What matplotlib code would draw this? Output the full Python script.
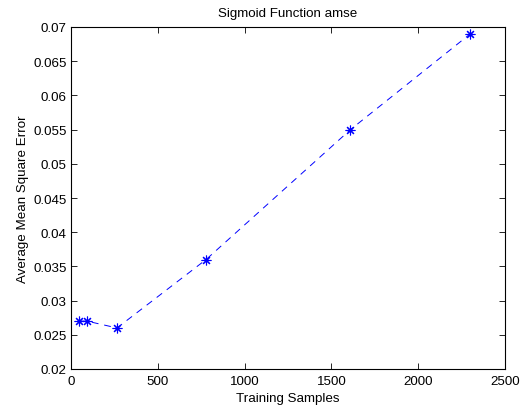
import matplotlib
matplotlib.use("Agg")
import matplotlib.pyplot as plt

# training set sizes and the resulting average mean square error
samples = [48, 92, 265, 778, 1610, 2300]
amse = [0.027, 0.027, 0.026, 0.036, 0.055, 0.069]

x_ticks = [0, 500, 1000, 1500, 2000, 2500]
y_ticks = [0.02, 0.025, 0.03, 0.035, 0.04, 0.045, 0.05, 0.055, 0.06, 0.065, 0.07]

plt.rcParams["font.family"] = ["Liberation Sans", "DejaVu Sans"]
fs = 9.6

fig = plt.figure(figsize=(5.23, 4.10), dpi=100)
ax = fig.add_axes([71 / 523, 1 - 370 / 410, 434 / 523, 342 / 410])

ax.plot(samples, amse, color="blue", linewidth=0.7, linestyle=(0, (7, 6)),
        marker=(8, 2, 0), markersize=7, markeredgewidth=0.8,
        markeredgecolor="blue")

ax.set_xlim(0, 2500)
ax.set_ylim(0.02, 0.07)
ax.set_xticks(x_ticks)
ax.set_xticklabels([str(t) for t in x_ticks])
ax.set_yticks(y_ticks)
ax.set_yticklabels([f"{t:g}" for t in y_ticks])

# matlab-style axes: inward ticks on every side
ax.tick_params(direction="in", length=4, width=0.6, top=True, right=True,
               labelsize=fs, pad=3)
ax.tick_params(axis="x", pad=4)
for s in ax.spines.values():
    s.set_linewidth(0.8)

ax.set_title("Sigmoid Function amse", fontsize=fs, pad=8)
ax.set_xlabel("Training Samples", fontsize=fs, labelpad=4)
ax.set_ylabel("Average Mean Square Error", fontsize=fs, labelpad=3)

fig.savefig("out.png", dpi=100)
